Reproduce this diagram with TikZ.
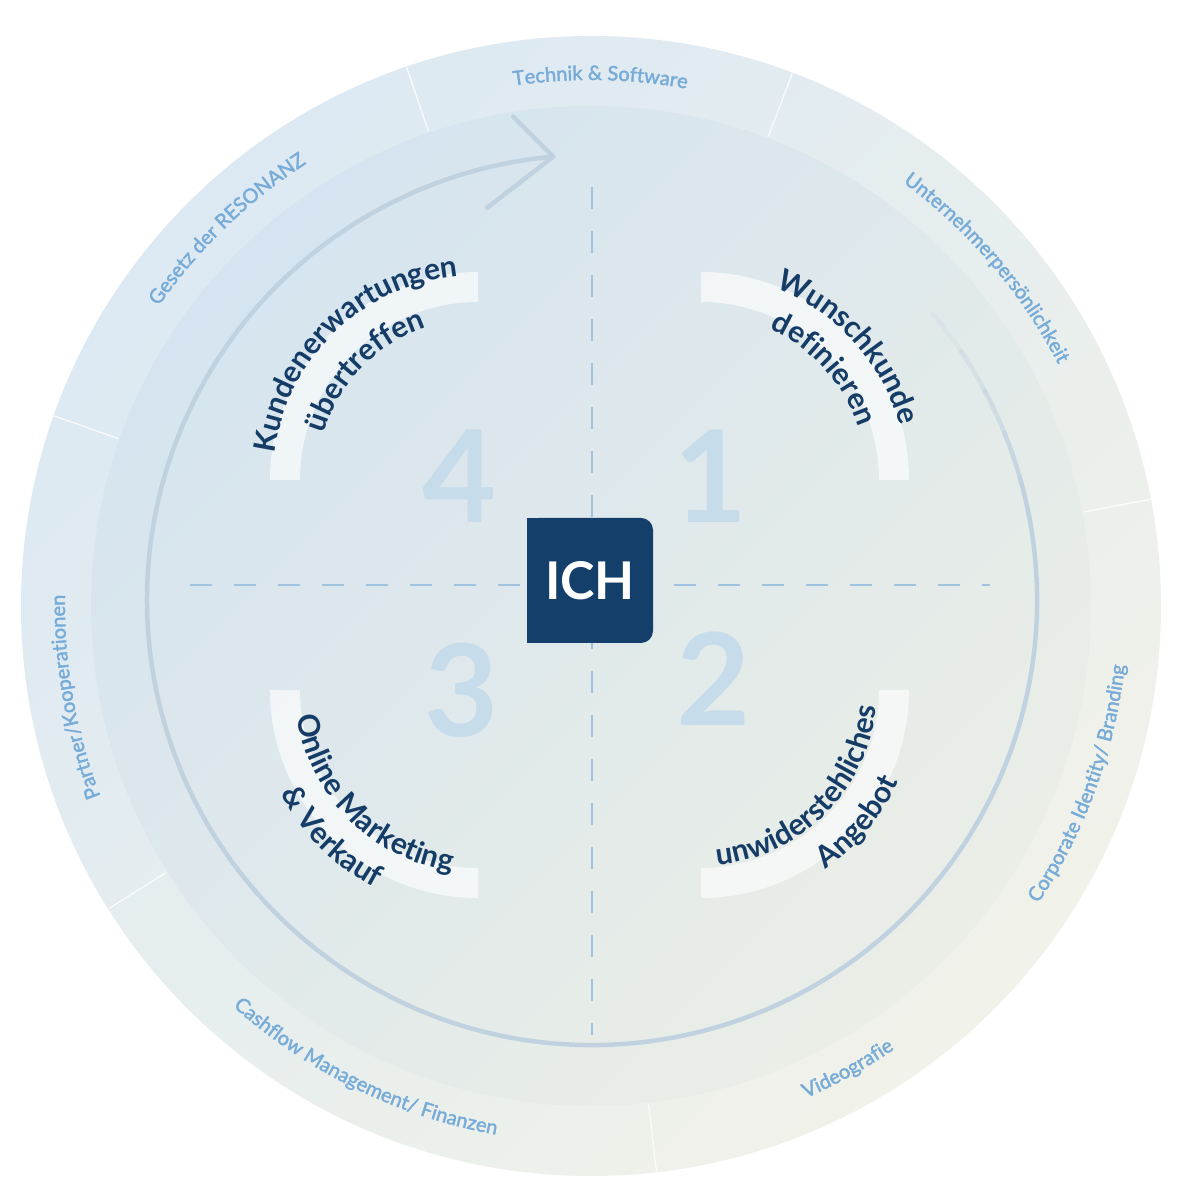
\documentclass[tikz,border=0pt]{standalone}
\usepackage{fontspec}
\setmainfont{Lato}
\newfontfamily\ringfam{Lato}[FakeBold=2]
\usepackage{tikz}
\usetikzlibrary{decorations.text}
\definecolor{ringblue}{RGB}{220,233,243}
\definecolor{ringcream}{RGB}{241,242,233}
\definecolor{diskblue}{RGB}{213,228,240}
\definecolor{diskcream}{RGB}{235,238,230}
\definecolor{ringtext}{RGB}{120,172,216}
\definecolor{stepnavy}{RGB}{20,60,102}
\definecolor{ichnavy}{RGB}{20,63,107}
\definecolor{loopgray}{RGB}{192,210,223}
\definecolor{dashblue}{RGB}{160,196,224}
\definecolor{numblue}{RGB}{199,220,234}

\newcommand\ringfont{\ringfam\fontsize{20}{24}\selectfont}
\newcommand\stepfont{\fontsize{30}{36}\selectfont\bfseries}

\begin{document}
\begin{tikzpicture}[x=1pt, y=1pt,
    ringlabel/.style={decorate, decoration={text along path, text align=center, text color=ringtext, text={|\ringfont|#1}}},
    steptext/.style={decorate, decoration={text along path, text align=center, text color=stepnavy, text={|\stepfont|#1}}},
    divider/.style={draw=white, line width=1.3pt, opacity=0.8},
    band/.style={fill=white, fill opacity=0.62},
    loopline/.style={draw=loopgray, line width=4.5pt, line cap=round},
    crossline/.style={draw=dashblue, line width=1.3pt, dash pattern=on 22pt off 22pt},
    stepnum/.style={font=\fontsize{128}{130}\selectfont\bfseries, text=numblue, inner sep=0pt},
    ichbox/.style={rectangle, fill=ichnavy, rounded corners=12pt, minimum width=126pt, minimum height=125pt, text=white, font=\fontsize{52}{60}\selectfont\bfseries}
]
    % Canvas
    \fill[white] (0,0) rectangle (1200,1193);
    \useasboundingbox (0,0) rectangle (1200,1193);
    \coordinate (C) at (591,587);
    \coordinate (C2) at (592,593);

    % Disks
    \shade[top color=ringblue, bottom color=ringcream, shading angle=45] (C) circle[radius=570pt];
    \shade[top color=diskblue, bottom color=diskcream, shading angle=45] (C) circle[radius=500pt];

    % Ring segments
    \foreach \a in {108.9, 69.3, 10.8, -83.4, -147.9, 160.5}
        \draw[divider] (C) ++(\a:502pt) -- ++(\a:68pt);

    % Ring labels
    \path[ringlabel={Technik {\&} Software}] (C) ++(134:526pt) arc[start angle=134, end angle=44, radius=526pt];
    \path[ringlabel=Unternehmerpersönlichkeit] (C) ++(85.5:526pt) arc[start angle=85.5, end angle=-4.5, radius=526pt];
    \path[ringlabel={Gesetz der RESONANZ}] (C) ++(179:526pt) arc[start angle=179, end angle=89, radius=526pt];
    \path[ringlabel=Partner/Kooperationen] (C) ++(235:526pt) arc[start angle=235, end angle=145, radius=526pt];
    \path[ringlabel={Corporate Identity/ Branding}] (C) ++(-65:537pt) arc[start angle=-65, end angle=25, radius=537pt];
    \path[ringlabel=Videografie] (C) ++(-106:537pt) arc[start angle=-106, end angle=-16, radius=537pt];
    \path[ringlabel={Cashflow Management/ Finanzen}] (C) ++(-161:537pt) arc[start angle=-161, end angle=-71, radius=537pt];

    % Loop with arrow
    \foreach \s in {0,...,4}
        \draw[loopline, opacity=0.2+\s*0.2] (C2) ++(40-\s*6:445pt) arc[start angle=40-\s*6, end angle=34-\s*6, radius=445pt];
    \draw[loopline] (C2) ++(10:445pt) arc[start angle=10, end angle=-265, radius=445pt];
    \path (C2) ++(95:445pt) coordinate (tip);
    \draw[loopline, line join=round] (tip) ++(-40,40) -- (tip) -- ++(-66,-51);

    % Cross
    \draw[crossline] (190,608) -- (990,608);
    \draw[crossline] (592,1006) -- (592,158);

    % Bands
    \foreach \cx/\cy/\a in {701/713/0, 478/713/90, 478/503/180, 701/503/270}
        \fill[band] (\cx,\cy) ++(\a:208pt) arc[start angle=\a, end angle=\a+90, radius=208pt]
            -- ++(\a+90:-30pt) arc[start angle=\a+90, end angle=\a, radius=178pt] -- cycle;

    % Numbers
    \node[stepnum] (n1) at (711,717) {1};
    \node[stepnum] (n2) at (714,514) {2};
    \node[stepnum] (n3) at (462,503) {3};
    \node[stepnum] (n4) at (460,717) {4};

    % Step texts
    \path[steptext=Wunschkunde] (701,713) ++(117:206pt) arc[start angle=117, end angle=-33, radius=206pt];
    \path[steptext=definieren] (701,713) ++(117:166pt) arc[start angle=117, end angle=-33, radius=166pt];
    \path[steptext=unwiderstehliches] (701,503) ++(240:176pt) arc[start angle=240, end angle=390, radius=176pt];
    \path[steptext=Angebot] (701,503) ++(245:218pt) arc[start angle=245, end angle=395, radius=218pt];
    \path[steptext={Online Marketing}] (478,503) ++(150:183pt) arc[start angle=150, end angle=300, radius=183pt];
    \path[steptext={{\&} Verkauf}] (478,503) ++(150:223pt) arc[start angle=150, end angle=300, radius=223pt];
    \path[steptext=Kundenerwartungen] (478,713) ++(209:205pt) arc[start angle=209, end angle=59, radius=205pt];
    \path[steptext=übertreffen] (478,713) ++(211:161pt) arc[start angle=211, end angle=61, radius=161pt];

    % Center
    \fill[ichnavy] (527,550) rectangle (590,675);
    \node[ichbox] (ich) at (590,612.5) {ICH};
\end{tikzpicture}
\end{document}
